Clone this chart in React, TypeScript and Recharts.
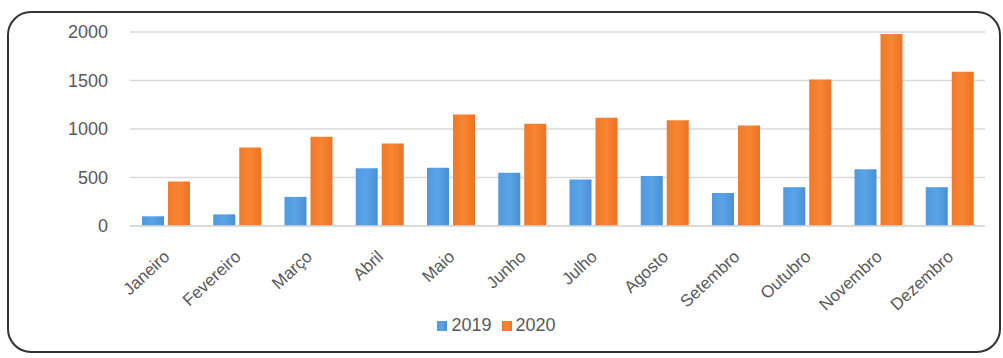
import React from "react";
import { BarChart, Bar, XAxis, YAxis, CartesianGrid, Legend } from "recharts";

const MONTHS = [
  "Janeiro",
  "Fevereiro",
  "Março",
  "Abril",
  "Maio",
  "Junho",
  "Julho",
  "Agosto",
  "Setembro",
  "Outubro",
  "Novembro",
  "Dezembro",
];
const VALUES_2019 = [100, 120, 300, 595, 600, 550, 480, 515, 340, 400, 585, 400];
const VALUES_2020 = [460, 810, 920, 850, 1150, 1055, 1115, 1090, 1035, 1510, 1980, 1590];
const Y_TICKS = [0, 500, 1000, 1500, 2000];

const data = MONTHS.map((m, i) => ({
  month: m,
  "2019": VALUES_2019[i],
  "2020": VALUES_2020[i],
}));

const FONT = "'Liberation Sans', Arial, sans-serif";
const TEXT = "#595959";

function MonthTick(props: any) {
  const { x, y, payload } = props;
  return (
    <g transform={`translate(${x + 5},${y + 24})`}>
      <text
        textAnchor="end"
        transform="rotate(-43)"
        fill={TEXT}
        fontSize={17}
        fontFamily={FONT}
      >
        {payload.value}
      </text>
    </g>
  );
}

export default function App() {
  return (
    <div
      style={{
        position: "fixed",
        left: 0,
        top: 0,
        width: 1003,
        height: 358,
        background: "#fff",
      }}
    >
      <div
        style={{
          position: "absolute",
          left: 7,
          top: 11,
          width: 990,
          height: 338,
          border: "2px solid #333",
          borderRadius: 24,
        }}
      />
      <div style={{ position: "absolute", left: 0, top: 0 }}>
        <BarChart
          width={1003}
          height={358}
          data={data}
          margin={{ top: 32, right: 18, bottom: 0, left: 0 }}
          barSize={22}
          barGap={4}
        >
          <defs>
            <linearGradient id="blueFill" x1="0" y1="0" x2="1" y2="0">
              <stop offset="0%" stopColor="#4f9ae0" />
              <stop offset="50%" stopColor="#5aa3e6" />
              <stop offset="100%" stopColor="#4a8fd6" />
            </linearGradient>
            <linearGradient id="orangeFill" x1="0" y1="0" x2="1" y2="0">
              <stop offset="0%" stopColor="#f07a2a" />
              <stop offset="50%" stopColor="#f78532" />
              <stop offset="100%" stopColor="#ec7324" />
            </linearGradient>
          </defs>
          <CartesianGrid vertical={false} stroke="#d9d9d9" strokeWidth={1.5} />
          <XAxis
            dataKey="month"
            height={111}
            interval={0}
            tickLine={false}
            axisLine={{ stroke: "#d9d9d9", strokeWidth: 1.5 }}
            tick={<MonthTick />}
          />
          <YAxis
            width={130}
            domain={[0, 2000]}
            ticks={Y_TICKS}
            axisLine={false}
            tickLine={false}
            tickMargin={16}
            tick={{ fill: TEXT, fontSize: 18, fontFamily: FONT }}
          />
          <Legend
            verticalAlign="bottom"
            iconType="square"
            iconSize={10}
            wrapperStyle={{
              fontSize: 18,
              fontFamily: FONT,
              bottom: 22,
              left: 0,
              width: 1003,
            }}
            formatter={(value: string) => <span style={{ color: TEXT }}>{value}</span>}
          />
          <Bar dataKey="2019" fill="url(#blueFill)" legendType="square" isAnimationActive={false} />
          <Bar dataKey="2020" fill="url(#orangeFill)" legendType="square" isAnimationActive={false} />
        </BarChart>
      </div>
    </div>
  );
}
